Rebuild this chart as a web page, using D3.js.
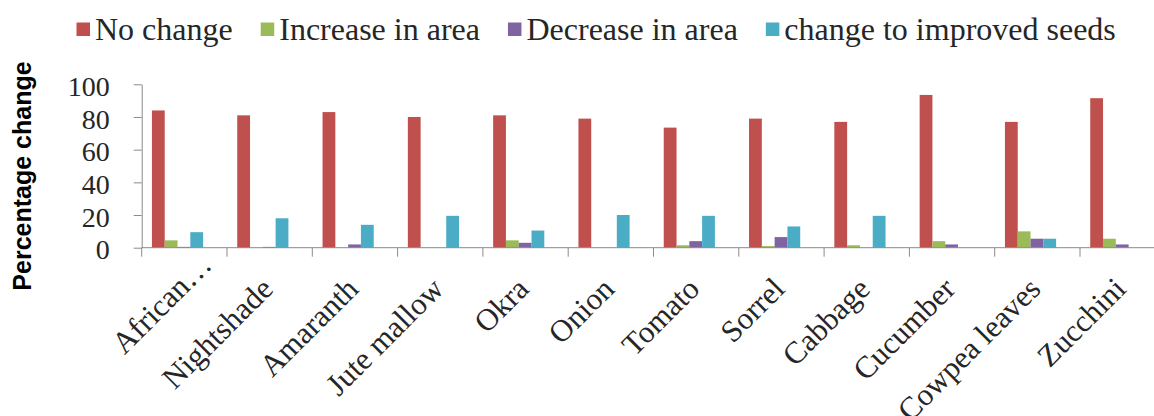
<!DOCTYPE html>
<html>
<head>
<meta charset="utf-8">
<script src="https://cdn.jsdelivr.net/npm/d3@7"></script>
<style>
  html, body { margin: 0; padding: 0; background: #ffffff; }
  svg { display: block; }
</style>
</head>
<body>
<div id="chart"></div>
<script>
// Crops and the share of farmers reporting each kind of change
const categories = ["African\u2026", "Nightshade", "Amaranth", "Jute mallow", "Okra", "Onion",
                    "Tomato", "Sorrel", "Cabbage", "Cucumber", "Cowpea leaves", "Zucchini"];
const seriesNames = ["No change", "Increase in area", "Decrease in area", "change to improved seeds"];
const noChange      = [84, 81, 83, 80, 81, 79, 73.5, 79, 77, 93.5, 77, 91.5];
const increaseArea  = [4.5, 0, 0, 0, 4.5, 0, 1.5, 1, 1.5, 4, 10, 5.5];
const decreaseArea  = [0.5, 0.5, 2, 0, 3, 0, 4, 6.5, 0, 2, 5.5, 2];
const improvedSeeds = [9.5, 18, 14, 19.5, 10.5, 20, 19.5, 13, 19.5, 0, 5.5, 0];
const yTicks = [0, 20, 40, 60, 80, 100];
const yTitle = "Percentage change";

const colors = ["#C0504D", "#9BBB59", "#8064A2", "#4BACC6"];
const seriesValues = [noChange, increaseArea, decreaseArea, improvedSeeds];

const W = 1154, H = 416;
const svg = d3.select("#chart").append("svg")
  .attr("width", W).attr("height", H)
  .attr("viewBox", [0, 0, W, H]);

const axisColor = "#8a8a8a";
const textColor = "#262626";
const serif = "'Liberation Serif', 'Times New Roman', serif";

// Scales
const x0 = 141.7, bandW = 85.3;
const x = d3.scaleBand().domain(categories)
  .range([x0, x0 + bandW * categories.length])
  .paddingInner(0).paddingOuter(0);
const xs = d3.scaleBand().domain(seriesNames)
  .range([x.bandwidth() * 0.12, x.bandwidth() * 0.72]);
const y = d3.scaleLinear().domain([0, 100]).range([247.7, 84.3]);

// Table of rows for drawing
const rows = categories.map((c, i) => ({
  cat: c,
  vals: seriesNames.map((s, k) => ({ key: s, value: seriesValues[k][i], color: colors[k] }))
}));

// Bars
const groups = svg.append("g").selectAll("g").data(rows).join("g")
  .attr("transform", d => `translate(${x(d.cat)},0)`);
groups.selectAll("rect").data(d => d.vals).join("rect")
  .attr("x", d => xs(d.key))
  .attr("width", xs.bandwidth())
  .attr("y", d => y(d.value))
  .attr("height", d => y(0) - y(d.value))
  .attr("fill", d => d.color);

// Y axis
const yAxis = svg.append("g")
  .attr("transform", `translate(${x0},0)`)
  .call(d3.axisLeft(y).tickValues(yTicks).tickSize(8).tickPadding(24).tickSizeOuter(0));
yAxis.select(".domain").attr("stroke", axisColor);
yAxis.selectAll(".tick line").attr("stroke", axisColor);
yAxis.selectAll(".tick text")
  .attr("fill", textColor)
  .attr("dy", "0.4em")
  .style("font-family", serif)
  .style("font-size", "28px");

// X axis: baseline plus tick marks on band boundaries
const xAxisG = svg.append("g");
xAxisG.append("line")
  .attr("x1", x0).attr("x2", W)
  .attr("y1", y(0)).attr("y2", y(0))
  .attr("stroke", axisColor);
xAxisG.selectAll("line.tk").data(categories).join("line")
  .attr("class", "tk")
  .attr("x1", d => x(d)).attr("x2", d => x(d))
  .attr("y1", y(0)).attr("y2", y(0) + 9)
  .attr("stroke", axisColor);

// Rotated category labels; the truncated first label sits a little further along its slant
xAxisG.selectAll("text").data(categories).join("text")
  .attr("transform", d => `translate(${x(d) + x.bandwidth() / 2 + 5},${y(0) + 43}) rotate(-45)`)
  .attr("text-anchor", "end")
  .attr("dx", (d, i) => i === 0 ? 34 : 0)
  .attr("fill", textColor)
  .style("font-family", serif)
  .style("font-size", "31px")
  .text(d => d);

// Y axis title
svg.append("text")
  .attr("transform", `translate(31,176) rotate(-90)`)
  .attr("text-anchor", "middle")
  .attr("fill", "#000")
  .style("font-family", "'Liberation Sans', Arial, sans-serif")
  .style("font-weight", "bold")
  .style("font-size", "25px")
  .text(yTitle);

// Legend
const legend = svg.append("g");
let lx = 76.5;
seriesNames.forEach((name, k) => {
  legend.append("rect")
    .attr("x", lx).attr("y", 22.5)
    .attr("width", 13.5).attr("height", 13.5)
    .attr("fill", colors[k]);
  const t = legend.append("text")
    .attr("x", lx + 18.5).attr("y", 39.5)
    .attr("fill", textColor)
    .style("font-family", serif)
    .style("font-size", "32px")
    .text(name);
  lx = lx + 18.5 + t.node().getComputedTextLength() + 28;
});
</script>
</body>
</html>
